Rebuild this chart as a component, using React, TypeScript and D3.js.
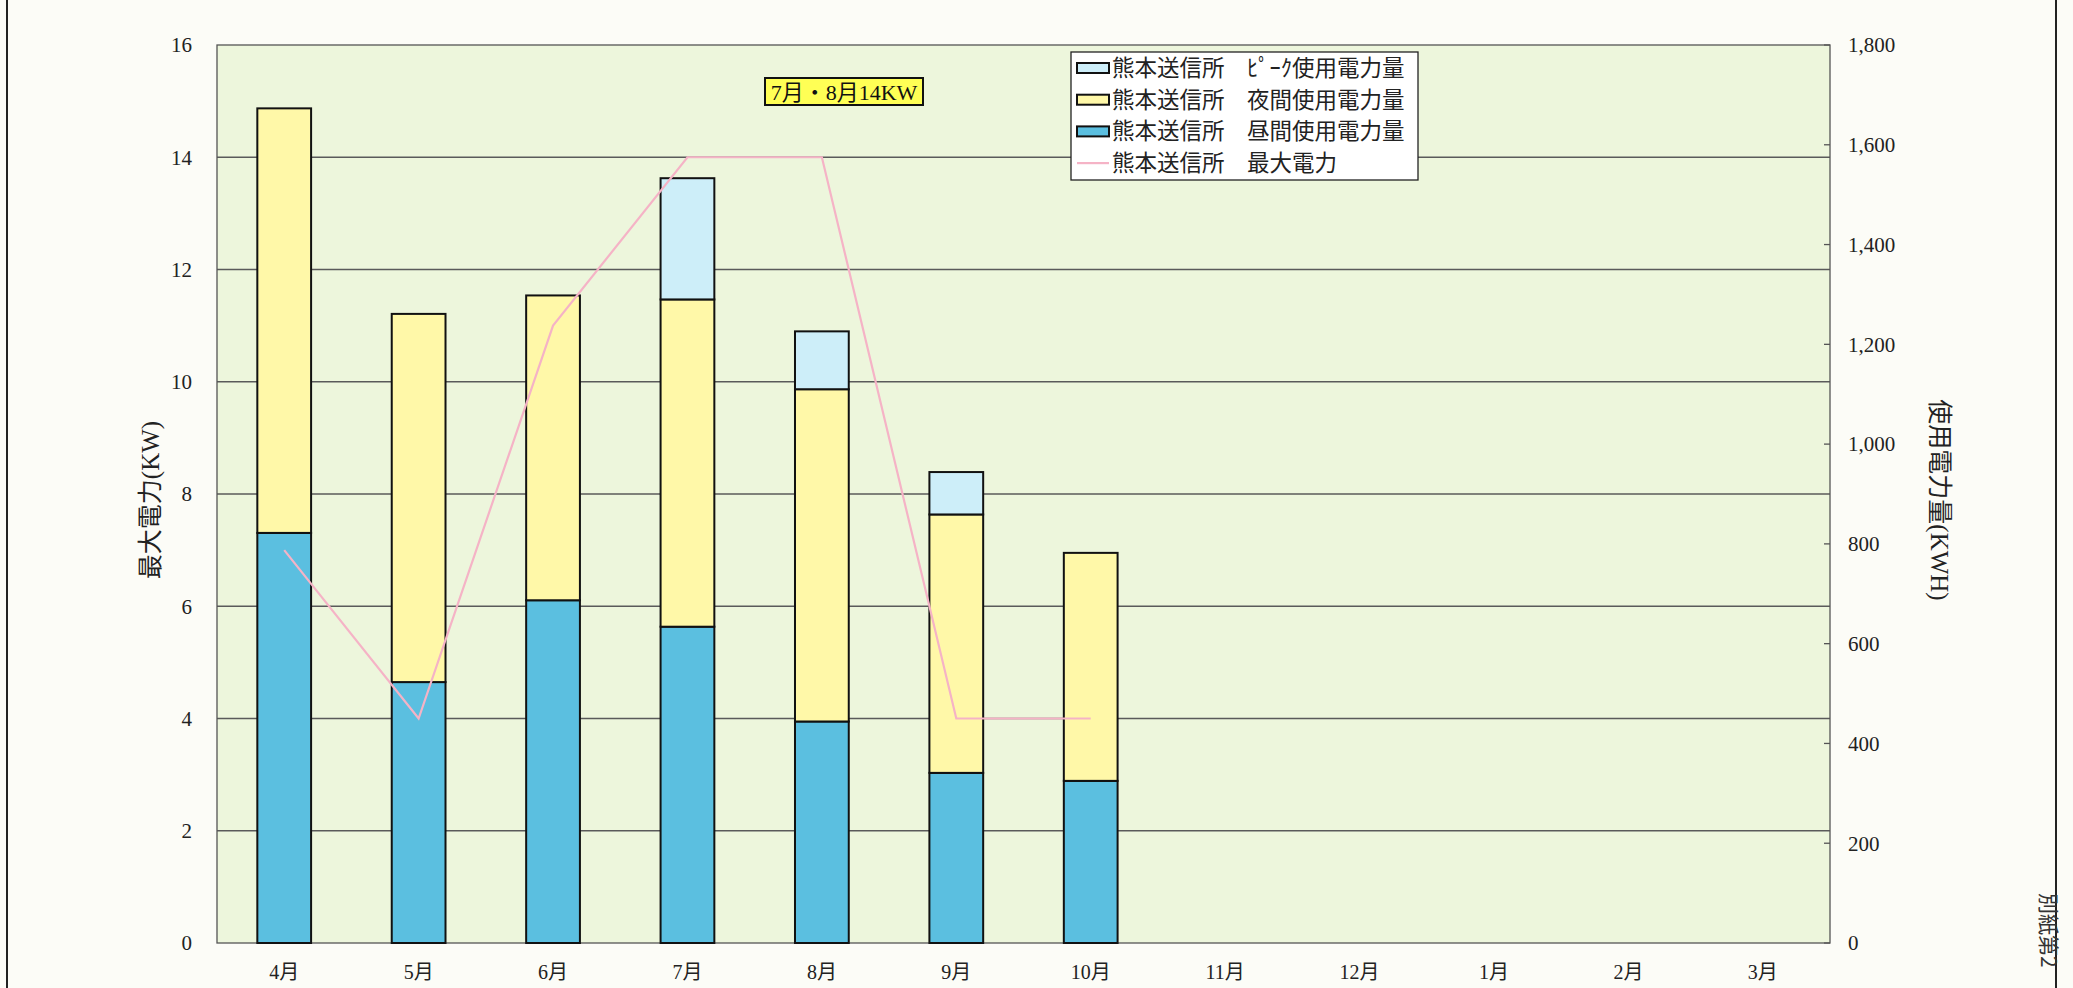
import * as d3 from 'd3';
import React, { useEffect, useRef } from 'react';

const months = ['4月', '5月', '6月', '7月', '8月', '9月', '10月', '11月', '12月', '1月', '2月', '3月'];
const dayUse = [822, 523, 687, 634, 444, 341, 325];
const nightUse = [851, 738, 611, 656, 666, 518, 457];
const peakUse = [0, 0, 0, 243, 116, 85, 0];
const maxPower = [7, 4, 11, 14, 14, 4, 4];
const kwTicks = [0, 2, 4, 6, 8, 10, 12, 14, 16];
const kwhTicks = [0, 200, 400, 600, 800, 1000, 1200, 1400, 1600, 1800];

const seriesNames = [
  '熊本送信所　ﾋﾟｰｸ使用電力量',
  '熊本送信所　夜間使用電力量',
  '熊本送信所　昼間使用電力量',
  '熊本送信所　最大電力',
];

const colors = {
  day: '#5bbfe0',
  night: '#fff8a8',
  peak: '#cdeef9',
  line: '#f5b3c6',
  plotBg: '#edf6dc',
  pageBg: '#fcfcf7',
};

const serif = "'Liberation Serif', 'DejaVu Serif', 'Noto Sans CJK JP', serif";
const jp = "'Noto Sans CJK JP', sans-serif";

export default function App() {
  const svgRef = useRef<SVGSVGElement | null>(null);

  const width = 2073;
  const height = 988;
  const left = 217;
  const right = 1830;
  const top = 45;
  const bottom = 943;

  useEffect(() => {
    const svg = d3.select(svgRef.current);
    svg.selectAll('*').remove();

    svg.append('rect').attr('width', width).attr('height', height).attr('fill', colors.pageBg);

    // page border lines
    svg.append('line').attr('x1', 7).attr('x2', 7).attr('y1', 0).attr('y2', height)
      .attr('stroke', '#222').attr('stroke-width', 2);
    svg.append('line').attr('x1', 2056).attr('x2', 2056).attr('y1', 0).attr('y2', height)
      .attr('stroke', '#222').attr('stroke-width', 2);
    svg.append('text')
      .attr('transform', 'translate(2060,893) rotate(90)')
      .attr('font-family', jp).attr('font-size', 21).attr('fill', '#333')
      .attr('dominant-baseline', 'hanging')
      .text('別紙第2');

    const x = d3.scaleBand().domain(months).range([left, right]).paddingInner(0.6).paddingOuter(0.3);
    const yKw = d3.scaleLinear().domain([0, 16]).range([bottom, top]);
    const yKwh = d3.scaleLinear().domain([0, 1800]).range([bottom, top]);

    svg.append('rect')
      .attr('x', left).attr('y', top).attr('width', right - left).attr('height', bottom - top)
      .attr('fill', colors.plotBg);

    // gridlines
    svg.append('g').selectAll('line').data(kwTicks.slice(1, -1)).join('line')
      .attr('x1', left).attr('x2', right)
      .attr('y1', d => yKw(d)).attr('y2', d => yKw(d))
      .attr('stroke', '#5a5a5a').attr('stroke-width', 1.3);

    svg.append('rect')
      .attr('x', left).attr('y', top).attr('width', right - left).attr('height', bottom - top)
      .attr('fill', 'none').attr('stroke', '#555').attr('stroke-width', 1.3);

    // left axis
    svg.append('g').selectAll('text').data(kwTicks).join('text')
      .attr('x', 192).attr('y', d => yKw(d)).attr('dy', '0.35em')
      .attr('text-anchor', 'end').attr('font-family', serif).attr('font-size', 21).attr('fill', '#222')
      .text(d => d);

    // right axis
    svg.append('g').selectAll('line').data(kwhTicks).join('line')
      .attr('x1', right - 6).attr('x2', right)
      .attr('y1', d => yKwh(d)).attr('y2', d => yKwh(d))
      .attr('stroke', '#555').attr('stroke-width', 1.3);
    svg.append('g').selectAll('text').data(kwhTicks).join('text')
      .attr('x', 1848).attr('y', d => yKwh(d)).attr('dy', '0.35em')
      .attr('text-anchor', 'start').attr('font-family', serif).attr('font-size', 21).attr('fill', '#222')
      .text(d => d3.format(',')(d));

    // month labels
    svg.append('g').selectAll('text').data(months).join('text')
      .attr('x', d => (x(d) ?? 0) + x.bandwidth() / 2).attr('y', 972).attr('dy', '0.35em')
      .attr('text-anchor', 'middle').attr('font-family', serif).attr('font-size', 20).attr('fill', '#222')
      .text(d => d);

    // axis titles
    svg.append('text')
      .attr('transform', 'translate(150,500) rotate(-90)')
      .attr('text-anchor', 'middle').attr('dy', '0.35em')
      .attr('font-family', serif).attr('font-size', 25).attr('fill', '#222')
      .text('最大電力(KW)');
    svg.append('text')
      .attr('transform', 'translate(1940,500) rotate(90)')
      .attr('text-anchor', 'middle').attr('dy', '0.35em')
      .attr('font-family', serif).attr('font-size', 25).attr('fill', '#222')
      .text('使用電力量(KWH)');

    // stacked bars
    const rows = dayUse.map((d, i) => ({ month: months[i], day: d, night: nightUse[i], peak: peakUse[i] }));
    const stack = d3.stack<any>().keys(['day', 'night', 'peak'])(rows);
    const fills: Record<string, string> = { day: colors.day, night: colors.night, peak: colors.peak };

    stack.forEach(layer => {
      svg.append('g').selectAll('rect').data(layer.filter(s => s[1] - s[0] > 0)).join('rect')
        .attr('x', s => x(s.data.month) ?? 0)
        .attr('width', x.bandwidth())
        .attr('y', s => yKwh(s[1]))
        .attr('height', s => yKwh(s[0]) - yKwh(s[1]))
        .attr('fill', fills[layer.key])
        .attr('stroke', '#111').attr('stroke-width', 2);
    });

    // max power line
    const line = d3.line<number>()
      .x((_, i) => (x(months[i]) ?? 0) + x.bandwidth() / 2)
      .y(d => yKw(d));
    svg.append('path').datum(maxPower)
      .attr('fill', 'none').attr('stroke', colors.line).attr('stroke-width', 2.2)
      .attr('d', line);

    // annotation
    const note = svg.append('g').attr('transform', 'translate(765,78)');
    note.append('rect').attr('width', 158).attr('height', 27)
      .attr('fill', '#ffff55').attr('stroke', '#111').attr('stroke-width', 2);
    note.append('text').attr('x', 79).attr('y', 14).attr('dy', '0.35em')
      .attr('text-anchor', 'middle').attr('font-family', serif).attr('font-size', 22).attr('fill', '#111')
      .text('7月・8月14KW');

    // legend
    const legend = svg.append('g').attr('transform', 'translate(1071,52)');
    legend.append('rect').attr('width', 347).attr('height', 128)
      .attr('fill', '#fff').attr('stroke', '#222').attr('stroke-width', 1.3);
    const swatches = [colors.peak, colors.night, colors.day];
    seriesNames.forEach((name, i) => {
      const cy = 16 + i * 31.7;
      if (i < 3) {
        legend.append('rect').attr('x', 6).attr('y', cy - 5).attr('width', 32).attr('height', 10)
          .attr('fill', swatches[i]).attr('stroke', '#111').attr('stroke-width', 2);
      } else {
        legend.append('line').attr('x1', 6).attr('x2', 38).attr('y1', cy).attr('y2', cy)
          .attr('stroke', colors.line).attr('stroke-width', 2.2);
      }
      legend.append('text').attr('x', 41).attr('y', cy).attr('dy', '0.35em')
        .attr('font-family', jp).attr('font-size', 22.5).attr('fill', '#222')
        .attr('xml:space', 'preserve')
        .text(name);
    });
  }, []);

  return (
    <svg
      ref={svgRef}
      width={width}
      height={height}
      viewBox={`0 0 ${width} ${height}`}
      style={{ position: 'absolute', left: 0, top: 0, display: 'block' }}
    />
  );
}
